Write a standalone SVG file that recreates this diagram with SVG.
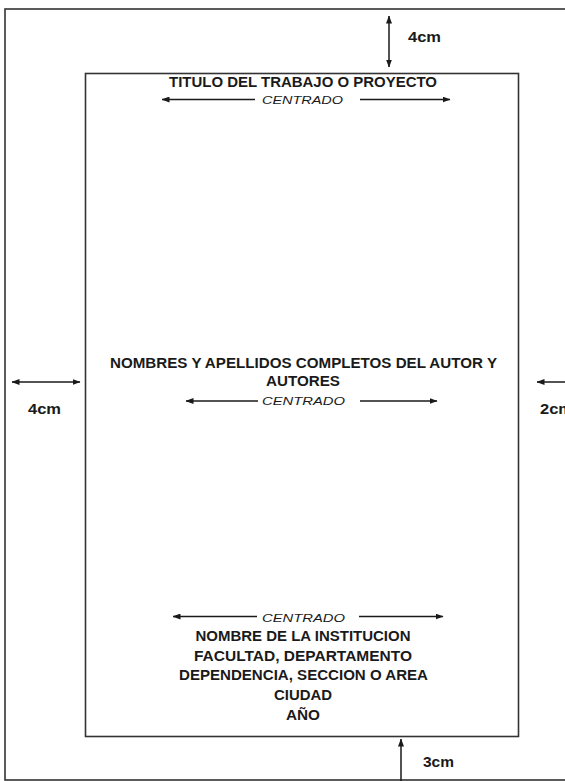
<svg xmlns="http://www.w3.org/2000/svg" width="565" height="781" viewBox="0 0 565 781">
<style>
.frame{fill:none;stroke:#333;stroke-width:1.6}
.arr{stroke:#1a1a1a;stroke-width:1.5;fill:none}
.b{font-family:"Liberation Sans",Arial,sans-serif;font-weight:bold;font-size:14px;fill:#1a1a1a}
.i{font-family:"Liberation Sans",Arial,sans-serif;font-style:italic;font-size:11.5px;fill:#1a1a1a}
.c{text-anchor:middle}
</style>
<defs>
<marker id="ah" viewBox="0 0 8 6" markerWidth="8" markerHeight="6" refX="7.5" refY="3" orient="auto-start-reverse" markerUnits="userSpaceOnUse">
<path d="M0,0 L8,3 L0,6 z" fill="#1a1a1a"/>
</marker>
</defs>
<rect id="page" class="frame" x="5" y="9" width="575" height="771"/>
<rect id="margins" class="frame" x="85.5" y="73.5" width="433" height="663"/>
<g id="connectors">
<line class="arr" x1="389" y1="16" x2="389" y2="67" marker-start="url(#ah)" marker-end="url(#ah)"/>
<line class="arr" x1="12" y1="382" x2="80" y2="382" marker-start="url(#ah)" marker-end="url(#ah)"/>
<line class="arr" x1="570" y1="382" x2="537" y2="382" marker-end="url(#ah)"/>
<line class="arr" x1="401" y1="781" x2="401" y2="739" marker-end="url(#ah)"/>
<line class="arr" x1="255" y1="99.5" x2="162" y2="99.5" marker-end="url(#ah)"/>
<line class="arr" x1="360" y1="99.5" x2="450" y2="99.5" marker-end="url(#ah)"/>
<line class="arr" x1="258" y1="401" x2="186" y2="401" marker-end="url(#ah)"/>
<line class="arr" x1="360" y1="401" x2="437" y2="401" marker-end="url(#ah)"/>
<line class="arr" x1="257" y1="616.5" x2="173" y2="616.5" marker-end="url(#ah)"/>
<line class="arr" x1="359" y1="616.5" x2="443" y2="616.5" marker-end="url(#ah)"/>
</g>
<g id="label-top"><text class="b" x="408" y="42" textLength="33" lengthAdjust="spacingAndGlyphs">4cm</text></g>
<g id="label-left"><text class="b" x="28" y="414" textLength="33" lengthAdjust="spacingAndGlyphs">4cm</text></g>
<g id="label-right"><text class="b" x="540" y="414" textLength="33" lengthAdjust="spacingAndGlyphs">2cm</text></g>
<g id="label-bottom"><text class="b" x="423" y="766.5" textLength="31" lengthAdjust="spacingAndGlyphs">3cm</text></g>
<g id="title">
<text class="b c" x="303" y="87" textLength="268" lengthAdjust="spacingAndGlyphs">TITULO DEL TRABAJO O PROYECTO</text>
<text class="i c" x="302.5" y="103.5" textLength="81" lengthAdjust="spacingAndGlyphs">CENTRADO</text>
</g>
<g id="author">
<text class="b c" x="303.5" y="367.5" textLength="387" lengthAdjust="spacingAndGlyphs">NOMBRES Y APELLIDOS COMPLETOS DEL AUTOR Y</text>
<text class="b c" x="303" y="385.5" textLength="74" lengthAdjust="spacingAndGlyphs">AUTORES</text>
<text class="i c" x="303.5" y="405" textLength="83" lengthAdjust="spacingAndGlyphs">CENTRADO</text>
</g>
<g id="institution">
<text class="i c" x="303.5" y="621.5" textLength="83" lengthAdjust="spacingAndGlyphs">CENTRADO</text>
<text class="b c" x="303" y="641" textLength="215" lengthAdjust="spacingAndGlyphs">NOMBRE DE LA INSTITUCION</text>
<text class="b c" x="303" y="661" textLength="218" lengthAdjust="spacingAndGlyphs">FACULTAD, DEPARTAMENTO</text>
<text class="b c" x="303.5" y="680" textLength="249" lengthAdjust="spacingAndGlyphs">DEPENDENCIA, SECCION O AREA</text>
<text class="b c" x="303" y="700" textLength="58" lengthAdjust="spacingAndGlyphs">CIUDAD</text>
<text class="b c" x="303" y="720" textLength="34" lengthAdjust="spacingAndGlyphs">AÑO</text>
</g>
</svg>
